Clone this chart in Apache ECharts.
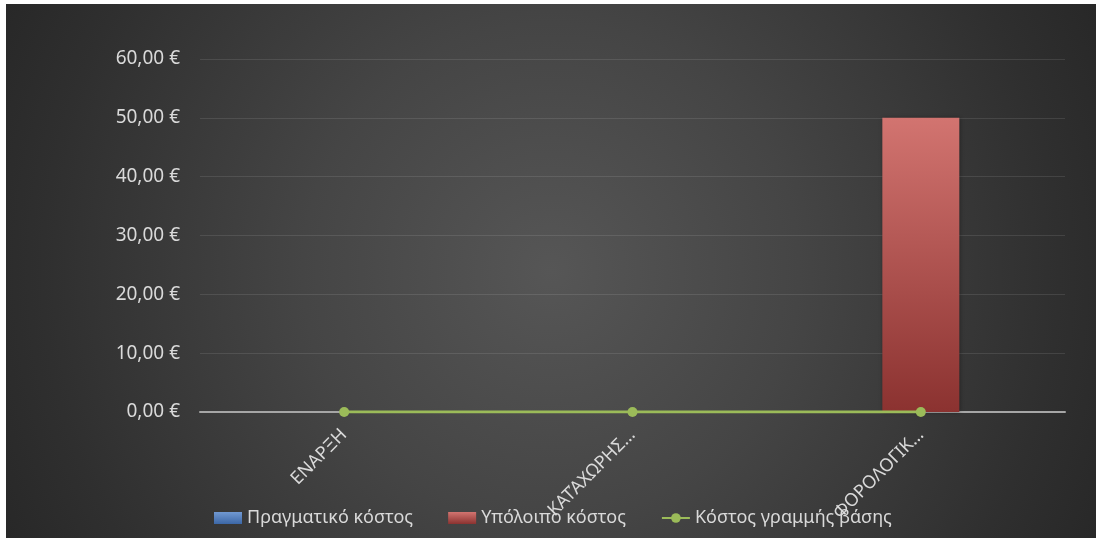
<!DOCTYPE html>
<html>
<head>
<meta charset="utf-8">
<script src="https://cdn.jsdelivr.net/npm/echarts@6/dist/echarts.min.js"></script>
<style>
  html, body { margin: 0; padding: 0; background: #ffffff; }
  #chart {
    position: absolute; left: 6px; top: 4px; width: 1090px; height: 534px;
    background-color: #282828;
    background: radial-gradient(circle 605px at 50% 50%, #565656 0%, #454545 41%, #2f2f2f 84%, #282828 100%);
  }
</style>
</head>
<body>
<div id="chart"></div>
<script>
// Categories and series values
const categories = ['ΕΝΑΡΞΗ', 'ΚΑΤΆΧΩΡΗΣ…', 'ΦΟΡΟΛΟΓΙΚ…'];
const actualCost = [0, 0, 0];      // Πραγματικό κόστος
const remainingCost = [0, 0, 50];  // Υπόλοιπο κόστος
const baselineCost = [0, 0, 0];    // Κόστος γραμμής βάσης
const yMin = 0, yMax = 60, yStep = 10;

const FONT = '"Noto Sans", "Open Sans", sans-serif';
const TEXT = '#d9d9d9';

const chart = echarts.init(document.getElementById('chart'), null, { renderer: 'canvas' });

chart.setOption({
  backgroundColor: 'transparent',
  textStyle: { fontFamily: FONT },
  grid: { left: 194, right: 31, top: 55, bottom: 126, containLabel: false },
  legend: {
    left: 203, top: 500,
    itemWidth: 28, itemHeight: 12, itemGap: 35,
    textStyle: { color: TEXT, fontSize: 18, fontFamily: FONT },
    data: [
      { name: 'Πραγματικό κόστος', icon: 'rect' },
      { name: 'Υπόλοιπο κόστος', icon: 'rect' },
      { name: 'Κόστος γραμμής βάσης' }
    ]
  },
  xAxis: {
    type: 'category',
    data: categories,
    axisTick: { show: false },
    axisLine: { lineStyle: { color: '#a6a6a6', width: 2 } },
    axisLabel: { rotate: 45, margin: 20, color: TEXT, fontSize: 18, fontFamily: FONT }
  },
  yAxis: {
    type: 'value',
    min: yMin, max: yMax, interval: yStep,
    axisLine: { show: false },
    axisTick: { show: false },
    splitLine: { lineStyle: { color: 'rgba(255,255,255,0.10)', width: 1 } },
    axisLabel: {
      margin: 20, color: TEXT, fontSize: 19, fontFamily: FONT,
      formatter: v => v.toFixed(2).replace('.', ',') + ' €'
    }
  },
  series: [
    {
      name: 'Πραγματικό κόστος', type: 'bar', stack: 'cost', barWidth: 77,
      data: actualCost,
      itemStyle: {
        color: new echarts.graphic.LinearGradient(0, 0, 0, 1, [
          { offset: 0, color: '#7199d2' }, { offset: 1, color: '#3c67a6' }
        ])
      }
    },
    {
      name: 'Υπόλοιπο κόστος', type: 'bar', stack: 'cost', barWidth: 77,
      data: remainingCost,
      itemStyle: {
        color: new echarts.graphic.LinearGradient(0, 0, 0, 1, [
          { offset: 0, color: '#d27470' }, { offset: 1, color: '#8b3230' }
        ]),
        shadowColor: 'rgba(0,0,0,0.35)', shadowBlur: 4, shadowOffsetX: 1
      }
    },
    {
      name: 'Κόστος γραμμής βάσης', type: 'line', z: 5,
      data: baselineCost,
      symbol: 'circle', symbolSize: 10,
      lineStyle: { color: '#9bbb59', width: 3 },
      itemStyle: { color: '#9bbb59' }
    }
  ]
});
</script>
</body>
</html>
